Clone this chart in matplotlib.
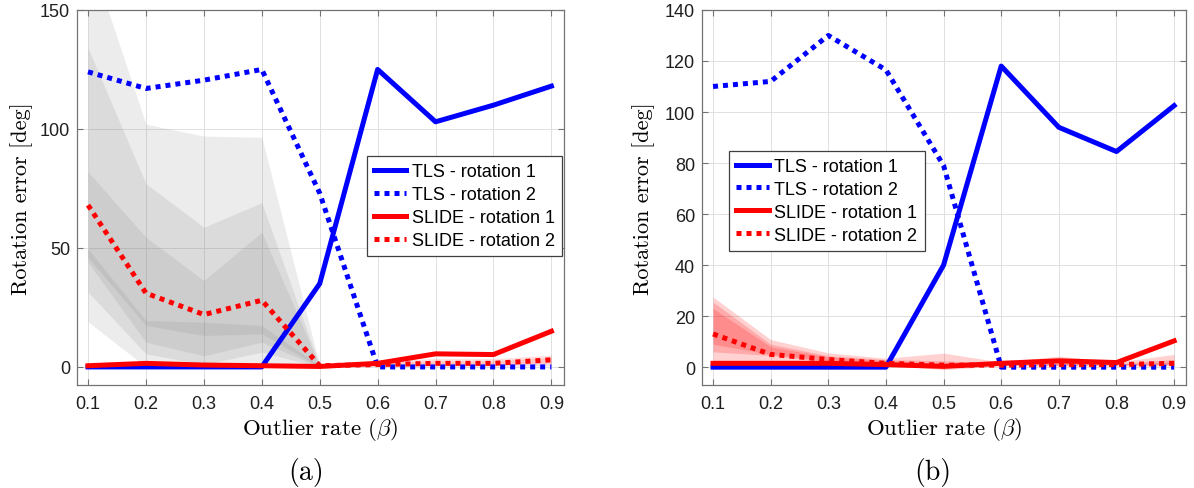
import numpy as np
import matplotlib
matplotlib.use('Agg')
import matplotlib.pyplot as plt

plt.rcParams['mathtext.fontset'] = 'cm'

# outlier rates
beta = [0.1, 0.2, 0.3, 0.4, 0.5, 0.6, 0.7, 0.8, 0.9]
xticks = [0.1, 0.2, 0.3, 0.4, 0.5, 0.6, 0.7, 0.8, 0.9]
labels = ['TLS - rotation 1', 'TLS - rotation 2', 'SLIDE - rotation 1', 'SLIDE - rotation 2']

# ---- panel (a)
a_tls1 = [0, 0, 0, 0, 35, 125, 103, 110, 118]
a_tls2 = [124, 117, 120.5, 125, 73, 0, 0, 0, 0]
a_slide1 = [0.5, 1.5, 0.8, 0.5, 0.2, 1.5, 5.5, 5.2, 15]
a_slide2 = [68, 31, 22, 28, 0.5, 1, 1.5, 1.5, 3]

# gray spread bands (0.1 .. 0.5)
a_gray_hi = [[175, 102, 97, 96.5, 0.5],
             [134, 77, 58.7, 69, 0.5],
             [82, 54.5, 36.3, 56.6, 0.5],
             [49.6, 19.5, 18.8, 17.4, 0.5]]
a_gray_lo = [[19, 0, 0, 0, 0],
             [31.5, 5.5, 1, 6.2, 0],
             [44, 10.4, 4.7, 10.4, 0],
             [46, 17.4, 13.2, 13.9, 0]]
# red spread bands (0.5 .. 0.9)
a_red_x = [0.5, 0.6, 0.7, 0.8, 0.9]
a_red_hi = [[0.8, 2.8, 3.5, 3.5, 5.0],
            [0.5, 2.0, 2.5, 2.5, 4.0]]
a_red_lo = [[0, 0.2, 0.3, 0.3, 0.5],
            [0, 0.6, 0.8, 0.8, 1.5]]

# ---- panel (b)
b_tls1 = [0, 0, 0, 0, 40, 118, 94, 84.5, 102.5]
b_tls2 = [110, 112, 130, 116.5, 79, 0, 0, 0, 0]
b_slide1 = [1.5, 1.5, 1.5, 1.0, 0.3, 1.5, 2.5, 1.8, 10.3]
b_slide2 = [13, 5, 3, 1.5, 0.8, 0.8, 1, 1, 1.5]

b_red_hi = [[27.5, 10.8, 5.6, 3.5, 5.5, 2.0, 4.3, 2.0, 5.0],
            [25.5, 9.0, 4.5, 3.0, 2.5, 1.5, 3.0, 1.5, 3.0],
            [23.0, 8.0, 4.0, 2.5, 1.5, 1.2, 2.0, 1.2, 2.0]]
b_red_lo = [[2.6, 2.6, 1.5, 1.0, -1.0, 0.5, 0.5, 0.5, 0.5],
            [6.0, 4.6, 2.0, 1.2, 0.0, 0.8, 0.8, 0.8, 1.0],
            [9.0, 5.0, 2.5, 1.3, 0.3, 1.0, 1.0, 1.0, 1.2]]


def style_axes(ax, ylim, yticks):
    ax.set_xlim(0.081, 0.921)
    ax.set_ylim(*ylim)
    ax.set_xticks(xticks)
    ax.set_xticklabels(['%.1f' % t for t in xticks])
    ax.set_yticks(yticks)
    ax.grid(True, color='0.88', lw=0.7)
    ax.set_axisbelow(True)
    for s in ax.spines.values():
        s.set_color('0.45')
        s.set_linewidth(0.9)
    ax.tick_params(direction='in', top=True, right=True, length=4, width=0.8,
                   color='0.45', labelcolor='0.12', labelsize=13)
    ax.tick_params(axis='x', pad=7.5)
    ax.tick_params(axis='y', pad=5)
    for lab in ax.get_xticklabels() + ax.get_yticklabels():
        lab.set_fontfamily('Liberation Sans')
    ax.set_xlabel(r'Outlier rate ($\beta$)', fontfamily='cmr10', fontsize=16.5)
    ax.set_ylabel('Rotation error [deg]', fontfamily='cmr10', fontsize=16)
    ax.xaxis.set_label_coords(0.5, -0.117)
    ax.xaxis.label.set_va('center')
    ax.yaxis.label.set_va('center')


def draw_lines(ax, y1, y2, y3, y4):
    dot = (0, (1, 1))
    ax.plot(beta, y1, color='#0000ff', lw=3.6, label=labels[0], zorder=3)
    ax.plot(beta, y2, color='#0000ff', lw=3.6, ls=dot, dash_capstyle='butt',
            label=labels[1], zorder=3)
    ax.plot(beta, y3, color='#ff0000', lw=3.6, label=labels[2], zorder=3)
    ax.plot(beta, y4, color='#ff0000', lw=3.6, ls=dot, dash_capstyle='butt',
            label=labels[3], zorder=3)


def add_legend(ax, x0, y0):
    leg = ax.legend(loc='upper left', bbox_to_anchor=(x0, y0), borderaxespad=0,
                    prop={'family': 'Liberation Sans', 'size': 13},
                    fancybox=False, framealpha=1, edgecolor='0.25',
                    handlelength=1.8, handletextpad=0.3, labelspacing=0.33,
                    borderpad=0.4)
    leg.get_frame().set_linewidth(0.9)


fig = plt.figure(figsize=(11.94, 4.89), dpi=100)
ax1 = fig.add_axes([0.0645, 0.2106, 0.4075, 0.767])
ax2 = fig.add_axes([0.588, 0.2106, 0.4055, 0.767])

# panel (a)
xg = beta[:5]
for hi, lo in zip(a_gray_hi, a_gray_lo):
    ax1.fill_between(xg, lo, hi, color='0.5', alpha=0.15, lw=0, zorder=1)
for hi, lo in zip(a_red_hi, a_red_lo):
    ax1.fill_between(a_red_x, lo, hi, color='#ff0000', alpha=0.12, lw=0, zorder=1)
draw_lines(ax1, a_tls1, a_tls2, a_slide1, a_slide2)
style_axes(ax1, (-7.6, 150), [0, 50, 100, 150])
ax1.yaxis.set_label_coords(-0.114, 0.5)
add_legend(ax1, 0.595, 0.611)

# panel (b)
for hi, lo in zip(b_red_hi, b_red_lo):
    ax2.fill_between(beta, lo, hi, color='#ff0000', alpha=0.18, lw=0, zorder=1)
draw_lines(ax2, b_tls1, b_tls2, b_slide1, b_slide2)
style_axes(ax2, (-7, 140), [0, 20, 40, 60, 80, 100, 120, 140])
ax2.yaxis.set_label_coords(-0.12, 0.5)
add_legend(ax2, 0.056, 0.625)

fig.text(306 / 1194, 1 - 473 / 489, '(a)', fontfamily='cmr10', fontsize=20,
         ha='center', va='center')
fig.text(933 / 1194, 1 - 473 / 489, '(b)', fontfamily='cmr10', fontsize=20,
         ha='center', va='center')

fig.savefig('out.png', dpi=100)
